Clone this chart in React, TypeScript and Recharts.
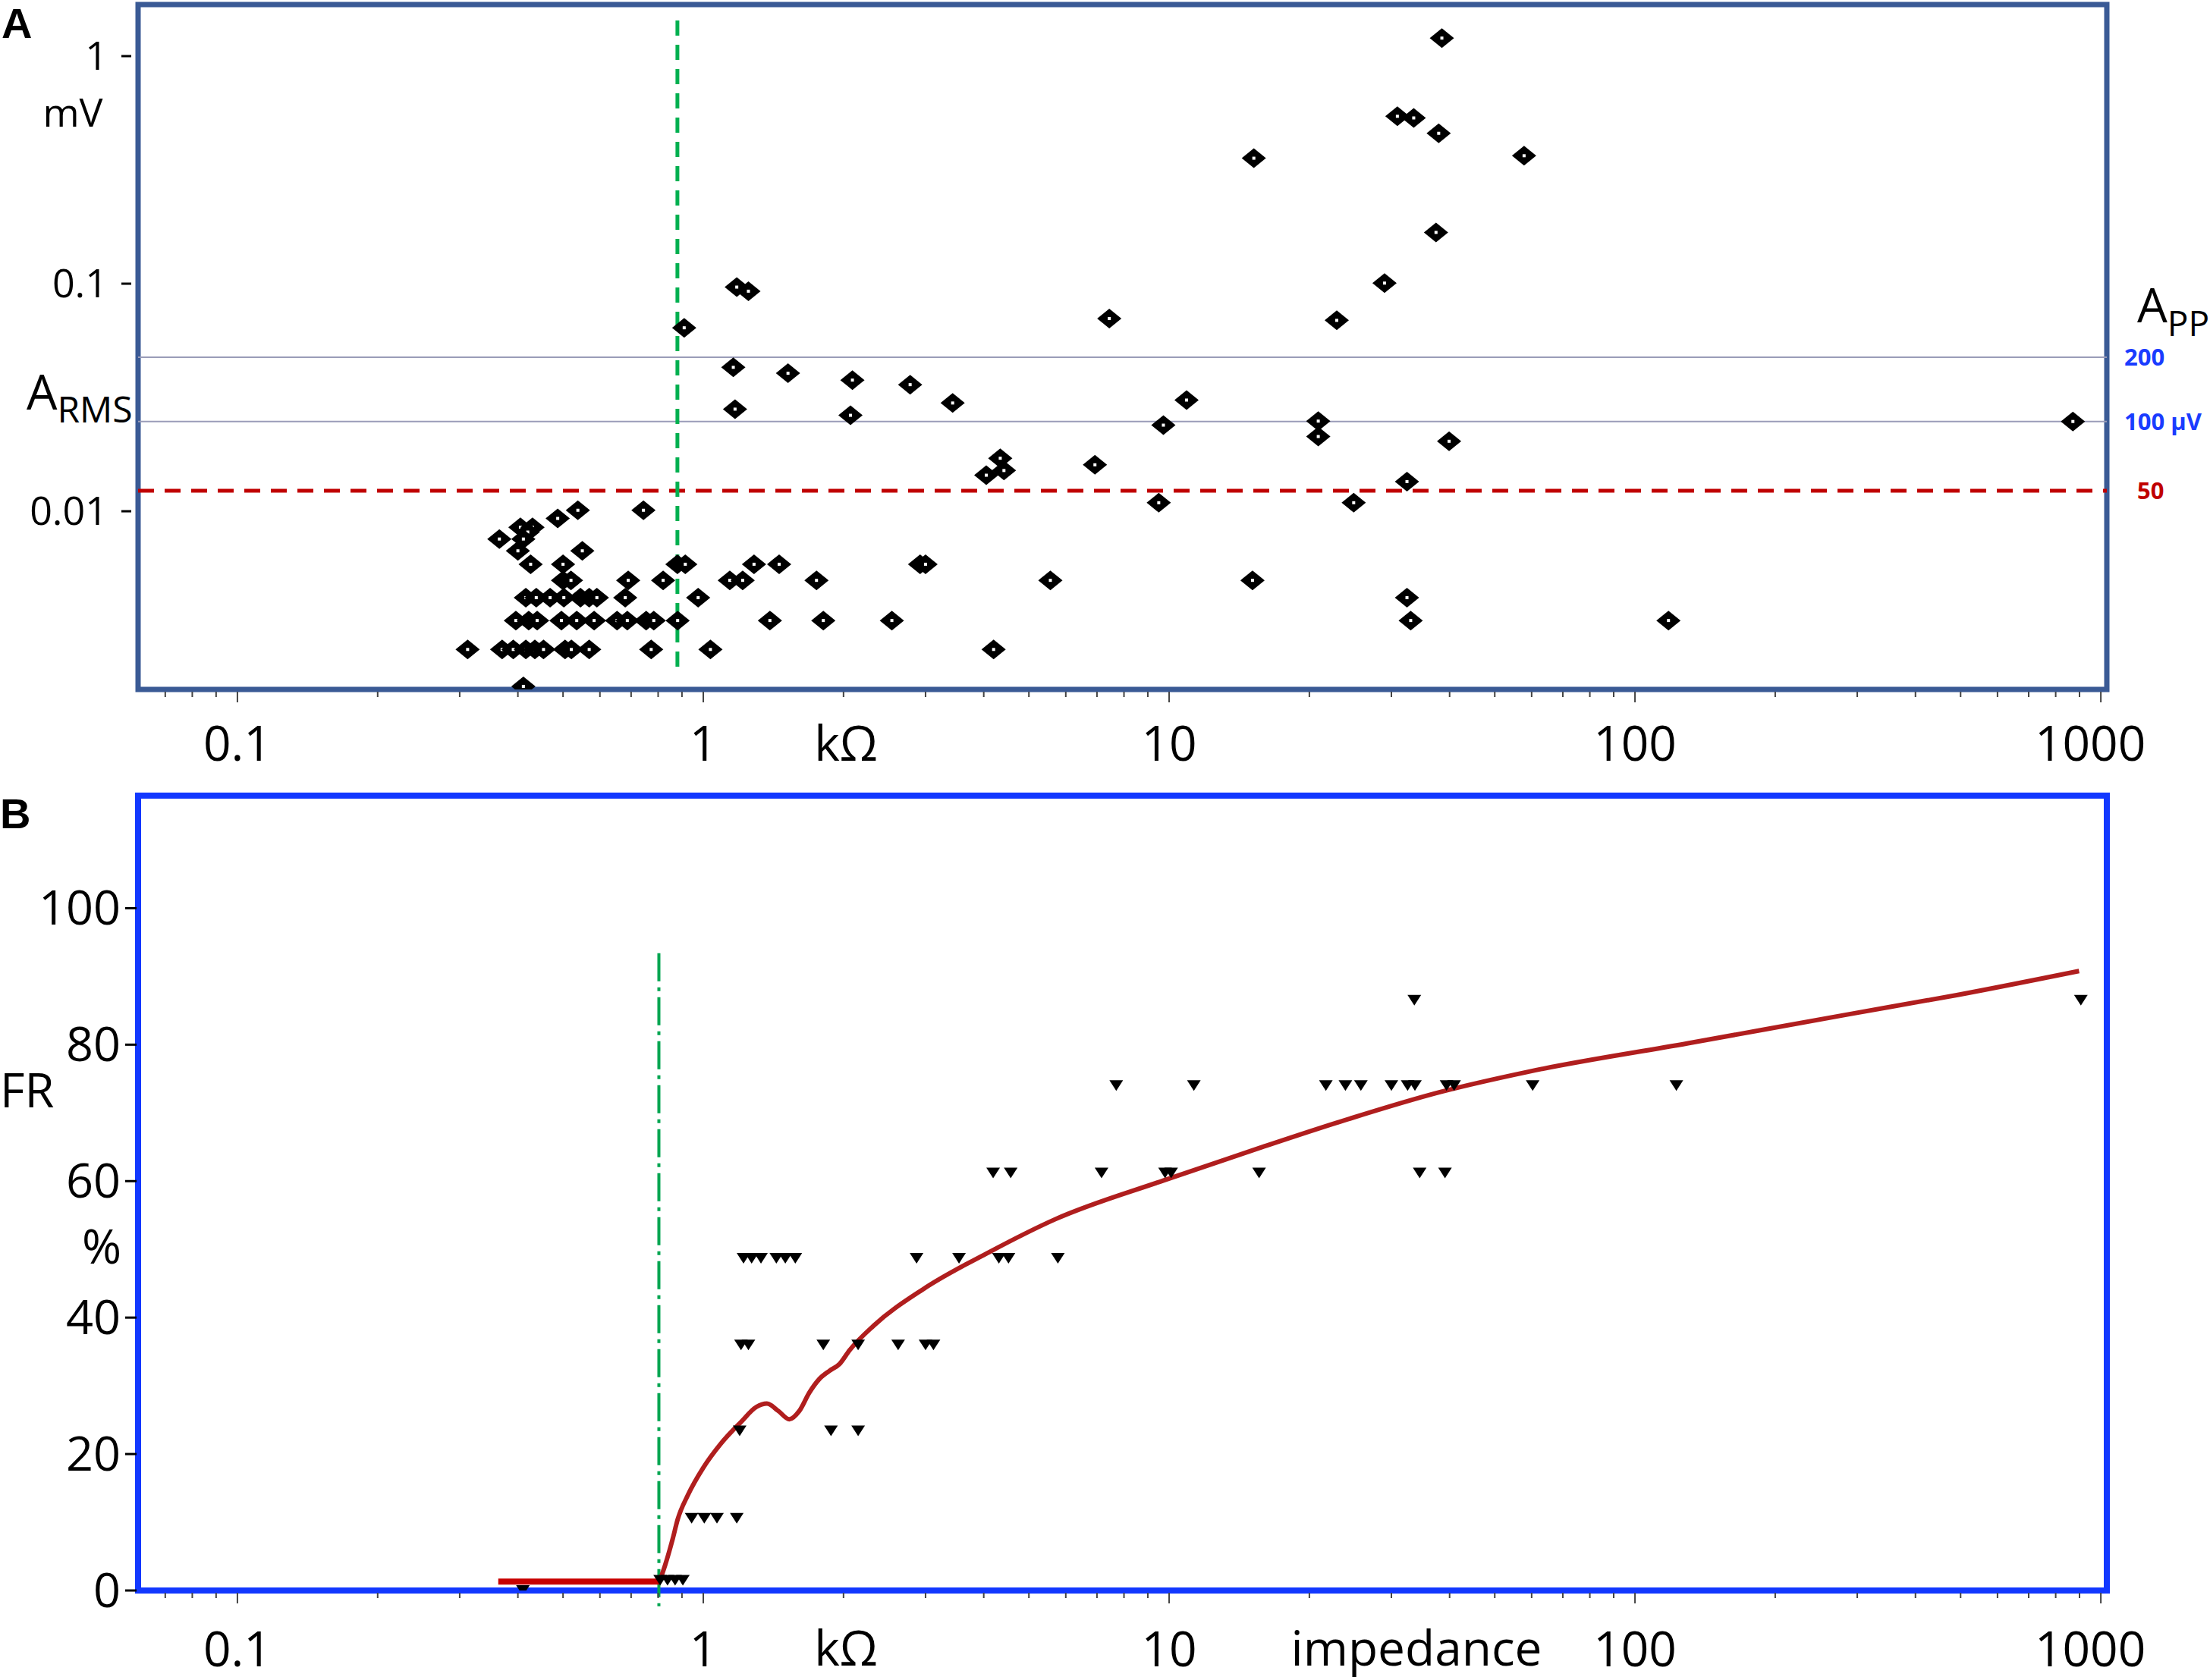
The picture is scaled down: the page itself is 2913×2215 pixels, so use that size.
import React from "react";
import {
  ComposedChart,
  Scatter,
  Line,
  XAxis,
  YAxis,
  ReferenceLine,
  ReferenceArea,
} from "recharts";

const FONT = "'Open Sans', sans-serif";

// impedance axis (kΩ, log)
const decadeTicks = [0.1, 1, 10, 100, 1000];
const minorTicks = [
  0.07, 0.08, 0.09, 0.2, 0.3, 0.4, 0.5, 0.6, 0.7, 0.8, 0.9, 2, 3, 4, 5, 6, 7,
  8, 9, 20, 30, 40, 50, 60, 70, 80, 90, 200, 300, 400, 500, 600, 700, 800, 900,
];
const rmsTicks = [0.01, 0.1, 1];
const frTicks = [0, 20, 40, 60, 80, 100];

// panel A: [kΩ, A_RMS mV]
const rmsLow: [number, number][] = [
  [0.538, 0.0101], [0.744, 0.0101],
  [0.487, 0.0093],
  [0.405, 0.0085], [0.43, 0.0085], [0.42, 0.0081],
  [0.365, 0.00755], [0.411, 0.00755],
  [0.4, 0.0067], [0.55, 0.0067],
  [0.426, 0.00585], [0.5, 0.00585], [0.88, 0.00585], [0.915, 0.00585],
  [1.285, 0.00585], [1.455, 0.00585], [2.92, 0.00585], [3.0, 0.00585],
  [0.5, 0.00497], [0.52, 0.00497], [0.69, 0.00497], [0.82, 0.00497],
  [1.14, 0.00497], [1.215, 0.00497], [1.75, 0.00497], [5.56, 0.00497],
  [15.1, 0.00497],
  [0.416, 0.00417], [0.438, 0.00417], [0.469, 0.00417], [0.502, 0.00417],
  [0.545, 0.00417], [0.569, 0.00417], [0.591, 0.00417], [0.68, 0.00417],
  [0.975, 0.00417], [32.4, 0.00417],
  [0.396, 0.00331], [0.422, 0.00331], [0.44, 0.00331], [0.496, 0.00331],
  [0.535, 0.00331], [0.583, 0.00331], [0.653, 0.00331], [0.687, 0.00331],
  [0.754, 0.00331], [0.783, 0.00331], [0.881, 0.00331], [1.39, 0.00331],
  [1.81, 0.00331], [2.54, 0.00331], [33.0, 0.00331], [118, 0.00331],
  [0.312, 0.00247], [0.37, 0.00247], [0.391, 0.00247], [0.416, 0.00247],
  [0.435, 0.00247], [0.454, 0.00247], [0.505, 0.00247], [0.521, 0.00247],
  [0.569, 0.00247], [0.773, 0.00247], [1.036, 0.00247], [4.2, 0.00247],
  [0.411, 0.0017],
];

const rmsHigh: [number, number][] = [
  [0.91, 0.064], [1.18, 0.0966], [1.25, 0.0927], [1.16, 0.0429],
  [1.52, 0.0404], [2.09, 0.0377], [2.78, 0.036], [3.43, 0.0299],
  [1.17, 0.0281], [2.07, 0.0264], [7.44, 0.0703], [10.9, 0.0308],
  [9.72, 0.0239], [4.34, 0.0171], [4.42, 0.0151], [4.05, 0.0144],
  [6.93, 0.016], [9.5, 0.0109], [38.5, 1.2], [30.9, 0.544], [33.5, 0.535],
  [37.9, 0.458], [15.2, 0.356], [57.8, 0.365], [37.4, 0.168], [29, 0.1006],
  [22.9, 0.069], [20.9, 0.0249], [20.9, 0.0213], [39.9, 0.0203],
  [871, 0.0248], [32.4, 0.0135], [24.9, 0.0109],
];

// panel B: [kΩ, FR %]
const frPoints: [number, number][] = [
  [33.6, 86.5], [906, 86.5],
  [7.7, 74], [11.3, 74], [21.7, 74], [23.9, 74], [25.8, 74], [30.0, 74],
  [32.5, 74], [33.7, 74], [39.4, 74], [40.9, 74], [60.3, 74], [122.7, 74],
  [4.19, 61.2], [4.57, 61.2], [7.16, 61.2], [9.8, 61.2], [10.1, 61.2],
  [15.6, 61.2], [34.5, 61.2], [39.1, 61.2],
  [1.22, 48.7], [1.27, 48.7], [1.33, 48.7], [1.435, 48.7], [1.5, 48.7],
  [1.576, 48.7], [2.87, 48.7], [3.54, 48.7], [4.31, 48.7], [4.52, 48.7],
  [5.77, 48.7],
  [1.205, 36], [1.25, 36], [1.81, 36], [2.15, 36], [2.62, 36], [3.0, 36],
  [3.12, 36],
  [1.197, 23.4], [1.88, 23.4], [2.15, 23.4],
  [0.944, 10.6], [1.005, 10.6], [1.07, 10.6], [1.18, 10.6],
  [0.808, 1.5], [0.838, 1.5], [0.87, 1.5], [0.904, 1.5],
  [0.41, 0],
];

const fitFlat: [number, number][] = [
  [0.363, 1.3], [0.805, 1.3],
];

const fitCurve: [number, number][] = [
  [0.805, 1.3], [0.828, 3.7], [0.86, 7.6], [0.881, 10.4], [0.927, 14.0],
  [1.0, 18.0], [1.09, 21.5], [1.205, 24.7], [1.3, 26.9], [1.37, 27.4],
  [1.45, 26.3], [1.53, 25.1], [1.607, 26.3], [1.689, 29.0], [1.775, 31.0],
  [1.866, 32.2], [1.961, 33.2], [2.06, 35.2], [2.32, 38.8], [2.97, 44.2],
  [4.11, 49.6], [5.69, 54.4], [9.73, 60.1], [15.7, 64.9], [23.0, 68.6],
  [38.4, 73.1], [58.7, 76.0], [130, 80.2], [290, 84.5], [493, 87.3],
  [898, 90.8],
];

const toXY = (pts: [number, number][]) => pts.map(([x, y]) => ({ x, y }));

const X_DOMAIN: [number, number] = [0.0612, 1030];
const RMS_DOMAIN: [number, number] = [0.001648, 1.685];
const FR_DOMAIN: [number, number] = [0, 116.5];

function ImpedanceTick(props: any) {
  const { x, y, payload, labelGap } = props;
  const major = decadeTicks.includes(payload.value);
  // the last label sits a little left of its tick, as in the figure
  const labelX = payload.value === 1000 ? x - 14 : x;
  return (
    <g>
      <line
        x1={x}
        x2={x}
        y1={y + 3}
        y2={y + (major ? 17 : 10)}
        stroke="#444"
        strokeWidth={2}
      />
      {major && (
        <text
          x={labelX}
          y={y + labelGap}
          textAnchor="middle"
          fontFamily={FONT}
          fontSize={64}
          fill="#000"
        >
          {String(payload.value)}
        </text>
      )}
    </g>
  );
}

function RmsTick(props: any) {
  const { x, y, payload } = props;
  return (
    <g>
      <line x1={x - 22} x2={x - 9} y1={y} y2={y} stroke="#000" strokeWidth={3} />
      <text
        x={x - 40}
        y={y}
        dy={18}
        textAnchor="end"
        fontFamily={FONT}
        fontSize={52}
        fill="#000"
      >
        {String(payload.value)}
      </text>
    </g>
  );
}

function FrTick(props: any) {
  const { x, y, payload } = props;
  return (
    <g>
      <line x1={x - 17} x2={x - 2} y1={y} y2={y} stroke="#000" strokeWidth={3} />
      <text
        x={x - 23}
        y={y}
        dy={22}
        textAnchor="end"
        fontFamily={FONT}
        fontSize={63}
        fill="#000"
      >
        {String(payload.value)}
      </text>
    </g>
  );
}

function Diamond(props: any) {
  const { cx, cy } = props;
  if (cx == null || cy == null) return null;
  return (
    <g>
      <path
        d={`M${cx - 16},${cy}L${cx},${cy - 13}L${cx + 16},${cy}L${cx},${cy + 13}Z`}
        fill="#000"
      />
      <rect x={cx - 2} y={cy - 2} width={4} height={4} fill="#fff" />
    </g>
  );
}

function Triangle(props: any) {
  const { cx, cy } = props;
  if (cx == null || cy == null) return null;
  return (
    <path
      d={`M${cx - 9},${cy - 7}L${cx + 9},${cy - 7}L${cx},${cy + 7}Z`}
      fill="#000"
    />
  );
}

function PanelA() {
  return (
    <ComposedChart
      width={2913}
      height={1040}
      margin={{ top: 6, right: 136, bottom: 130, left: 181 }}
    >
      <XAxis
        dataKey="x"
        type="number"
        scale="log"
        domain={X_DOMAIN}
        allowDataOverflow
        ticks={[...minorTicks, ...decadeTicks]}
        interval={0}
        height={1}
        axisLine={false}
        tickLine={false}
        tickSize={0}
        tickMargin={0}
        tick={<ImpedanceTick labelGap={94} />}
      />
      <YAxis
        dataKey="y"
        type="number"
        scale="log"
        domain={RMS_DOMAIN}
        allowDataOverflow
        ticks={rmsTicks}
        interval={0}
        width={1}
        axisLine={false}
        tickLine={false}
        tickSize={0}
        tickMargin={0}
        tick={<RmsTick />}
      />
      <ReferenceLine
        y={0.0475}
        stroke="#9A9CB8"
        strokeWidth={2}
        label={{
          value: "200",
          position: "right",
          offset: 23,
          fill: "#1a3cff",
          fontWeight: 700,
          fontSize: 31,
          fontFamily: FONT,
        }}
      />
      <ReferenceLine
        y={0.0248}
        stroke="#9A9CB8"
        strokeWidth={2}
        label={{
          value: "100 µV",
          position: "right",
          offset: 23,
          fill: "#1a3cff",
          fontWeight: 700,
          fontSize: 31,
          fontFamily: FONT,
        }}
      />
      <ReferenceLine
        y={0.0123}
        stroke="#C00000"
        strokeWidth={5}
        strokeDasharray="21 14"
        label={{
          value: "50",
          position: "right",
          offset: 40,
          fill: "#C00000",
          fontWeight: 700,
          fontSize: 31,
          fontFamily: FONT,
        }}
      />
      <ReferenceLine
        segment={[
          { x: 0.88, y: 1.435 },
          { x: 0.88, y: 0.00194 },
        ]}
        stroke="#00B050"
        strokeWidth={5}
        strokeDasharray="20 12"
      />
      <Scatter data={toXY(rmsLow)} shape={<Diamond />} isAnimationActive={false} />
      <Scatter data={toXY(rmsHigh)} shape={<Diamond />} isAnimationActive={false} />
      <ReferenceArea
        x1={X_DOMAIN[0]}
        x2={X_DOMAIN[1]}
        y1={RMS_DOMAIN[0]}
        y2={RMS_DOMAIN[1]}
        fill="none"
        fillOpacity={0}
        stroke="#3A5A95"
        strokeWidth={7}
        ifOverflow="visible"
      />
    </ComposedChart>
  );
}

function PanelB() {
  return (
    <ComposedChart
      width={2913}
      height={1175}
      margin={{ top: 9, right: 136, bottom: 117, left: 181 }}
    >
      <XAxis
        dataKey="x"
        type="number"
        scale="log"
        domain={X_DOMAIN}
        allowDataOverflow
        ticks={[...minorTicks, ...decadeTicks]}
        interval={0}
        height={1}
        axisLine={false}
        tickLine={false}
        tickSize={0}
        tickMargin={0}
        tick={<ImpedanceTick labelGap={100} />}
      />
      <YAxis
        dataKey="y"
        type="number"
        domain={FR_DOMAIN}
        allowDataOverflow
        ticks={frTicks}
        interval={0}
        width={1}
        axisLine={false}
        tickLine={false}
        tickSize={0}
        tickMargin={0}
        tick={<FrTick />}
      />
      <ReferenceLine
        segment={[
          { x: 0.803, y: 93.4 },
          { x: 0.803, y: -2.3 },
        ]}
        ifOverflow="visible"
        stroke="#00A550"
        strokeWidth={4}
        strokeDasharray="37 8 5 8"
      />
      <Line
        data={toXY(fitFlat)}
        dataKey="y"
        type="linear"
        stroke="#C80000"
        strokeWidth={8}
        dot={false}
        isAnimationActive={false}
      />
      <Line
        data={toXY(fitCurve)}
        dataKey="y"
        type="monotone"
        stroke="#B01E1E"
        strokeWidth={6}
        dot={false}
        isAnimationActive={false}
      />
      <Scatter data={toXY(frPoints)} shape={<Triangle />} isAnimationActive={false} />
      <ReferenceArea
        x1={X_DOMAIN[0]}
        x2={X_DOMAIN[1]}
        y1={FR_DOMAIN[0]}
        y2={FR_DOMAIN[1]}
        fill="none"
        fillOpacity={0}
        stroke="#1238FF"
        strokeWidth={8}
        ifOverflow="visible"
      />
    </ComposedChart>
  );
}

export default function App() {
  return (
    <div
      style={{
        position: "absolute",
        left: 0,
        top: 0,
        width: 2913,
        height: 2215,
        background: "#fff",
      }}
    >
      <div style={{ position: "absolute", left: 0, top: 0 }}>
        <PanelA />
      </div>
      <div style={{ position: "absolute", left: 0, top: 1040 }}>
        <PanelB />
      </div>
      <svg
        width={2913}
        height={2215}
        style={{ position: "absolute", left: 0, top: 0, pointerEvents: "none" }}
      >
        <g fontFamily={FONT} fill="#000">
          <text x={2} y={50} fontFamily="'Liberation Sans', Arial, sans-serif" fontWeight={700} fontSize={56}>
            A
          </text>
          <text x={96} y={167} textAnchor="middle" fontSize={52}>
            mV
          </text>
          <text x={35} y={540} fontSize={64}>
            A
            <tspan fontSize={48} dy={17}>
              RMS
            </tspan>
          </text>
          <text x={2817} y={425} fontSize={63}>
            A
            <tspan fontSize={46} dy={18}>
              PP
            </tspan>
          </text>
          <text x={1115} y={1003} textAnchor="middle" fontSize={64}>
            kΩ
          </text>
          <text x={0} y={1092} fontFamily="'Liberation Sans', Arial, sans-serif" fontWeight={700} fontSize={56}>
            B
          </text>
          <text x={0} y={1460} fontSize={63}>
            FR
          </text>
          <text x={134} y={1666} textAnchor="middle" fontSize={63}>
            %
          </text>
          <text x={1115} y={2196} textAnchor="middle" fontSize={64}>
            kΩ
          </text>
          <text x={1867} y={2196} textAnchor="middle" fontSize={64}>
            impedance
          </text>
        </g>
      </svg>
    </div>
  );
}
